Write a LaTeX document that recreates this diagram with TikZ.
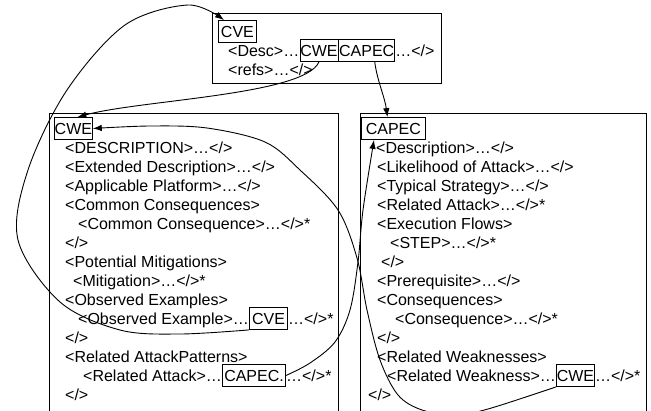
\documentclass[tikz,border=0pt]{standalone}
\usepackage{fontspec}
\setmainfont{Liberation Sans}
\usetikzlibrary{arrows.meta}
\begin{document}
\begin{tikzpicture}[x=1pt,y=-1pt,
  every node/.style={font=\fontsize{16}{19}\selectfont},
  txt/.style={inner sep=0pt, anchor=base west},
  ref/.style={draw, line width=0.8pt, inner xsep=0pt, inner ysep=1.5pt,
              text height=15pt, text depth=4pt, anchor=base west},
  frame/.style={draw, line width=0.8pt, anchor=north west, inner sep=0pt},
  link/.style={line width=0.9pt, -{Latex[length=9pt,width=6.5pt]}}
]
\useasboundingbox (0,0) rectangle (651,410);
\clip (0,0) rectangle (651,410);

% ---- record frames ----
\node[frame, minimum width=229pt, minimum height=70pt] (cvebox) at (212,13) {};
\node[frame, minimum width=289pt, minimum height=310pt] (cwebox) at (49,113) {};
\node[frame, minimum width=286pt, minimum height=310pt] (capecbox) at (360,113) {};

% ---- CVE record ----
\node[ref, minimum width=38pt] (cvelabel) at (218,37) {CVE};
\node[txt] (desc) at (228,56) {<Desc>…};
\node[ref, minimum width=38pt] (cvecwe) at (desc.base east) {CWE};
\node[ref, minimum width=56pt] (cvecapec) at (cvecwe.base east) {CAPEC};
\node[txt] (descend) at (cvecapec.base east) {…</>};
\node[txt] (refs) at (228,75) {<refs>…</>};

% ---- CWE record ----
\node[ref, minimum width=38pt] (cwelabel) at (54,134) {CWE};
\node[txt] (w1) at (65,153) {<DESCRIPTION>…</>};
\node[txt] (w2) at (65,172) {<Extended Description>…</>};
\node[txt] (w3) at (65,191) {<Applicable Platform>…</>};
\node[txt] (w4) at (65,210) {<Common Consequences>};
\node[txt] (w5) at (78,229) {<Common Consequence>…</>*};
\node[txt] (w6) at (65,248) {</>};
\node[txt] (w7) at (65,267) {<Potential Mitigations>};
\node[txt] (w8) at (73,286) {<Mitigation>…</>*};
\node[txt] (w9) at (65,305) {<Observed Examples>};
\node[txt] (w10) at (78,324) {<Observed Example>…};
\node[ref, minimum width=38pt] (obscve) at (w10.base east) {CVE};
\node[txt] (w10end) at (obscve.base east) {…</>*};
\node[txt] (w11) at (65,343) {</>};
\node[txt] (w12) at (65,362) {<Related AttackPatterns>};
\node[txt] (w13) at (83,381) {<Related Attack>…};
\node[ref, minimum width=63pt] (capecref) at (w13.base east) {CAPEC.};
\node[txt] (w13end) at (capecref.base east) {…</>*};
\node[txt] (w14) at (65,400) {</>};

% ---- CAPEC record ----
\node[ref, minimum width=64pt] (capeclabel) at (361,134) {CAPEC};
\node[txt] (p1) at (376,153) {<Description>…</>};
\node[txt] (p2) at (377,172) {<Likelihood of Attack>…</>};
\node[txt] (p3) at (377,191) {<Typical Strategy>…</>};
\node[txt] (p4) at (377,210) {<Related Attack>…</>*};
\node[txt] (p5) at (377,229) {<Execution Flows>};
\node[txt] (p6) at (390,248) {<STEP>…</>*};
\node[txt] (p7) at (381,267) {</>};
\node[txt] (p8) at (377,286) {<Prerequisite>…</>};
\node[txt] (p9) at (377,305) {<Consequences>};
\node[txt] (p10) at (395,324) {<Consequence>…</>*};
\node[txt] (p11) at (377,343) {</>};
\node[txt] (p12) at (377,362) {<Related Weaknesses>};
\node[txt] (p13) at (387,381) {<Related Weakness>…};
\node[ref, minimum width=38pt] (cweref) at (p13.base east) {CWE};
\node[txt] (p13end) at (cweref.base east) {…</>*};
\node[txt] (p14) at (368,400) {</>};

% ---- cross references ----
\draw[link] (cvecwe.south) .. controls (305,95) and (140,100) .. ([xshift=4pt]cwelabel.north);
\draw[link] ([xshift=8pt]cvecapec.south) .. controls (377,80) and (385,98) .. ([xshift=-6pt]capeclabel.north);
\draw[link] plot[smooth, tension=0.55] coordinates {(obscve.south west) (180,334) (120,330) (60,302) (18,240) (28,170) (67,90) (125,25) (188,5) ([xshift=6pt]cvelabel.north west)};
\draw[link] plot[smooth, tension=0.55] coordinates {(capecref.east) (310,363) (335,342) (350,310) (358,262) (363,210) ([xshift=13pt]capeclabel.south west)};
\draw[link] plot[smooth, tension=0.55] coordinates {(cweref.south west) (488,409) (455,415) (422,410) (398,395) (380,360) (367,310) (357,258) (338,210) (300,170) (265,142) (207,128) (150,126) (cwelabel.east)};
\end{tikzpicture}
\end{document}
